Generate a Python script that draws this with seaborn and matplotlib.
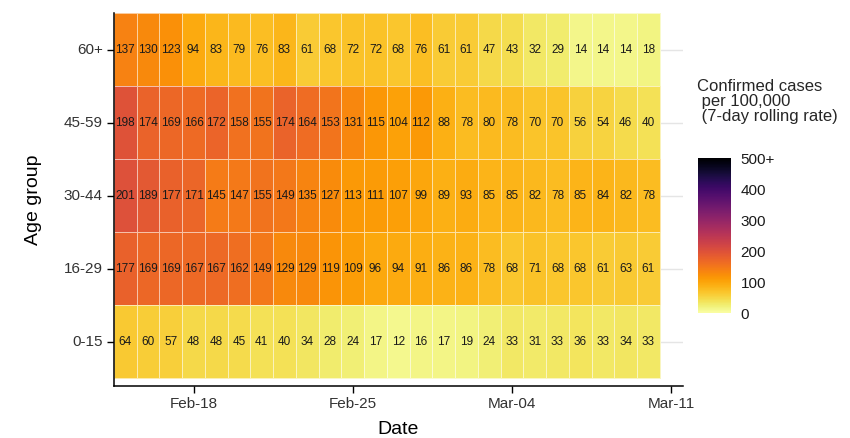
import pandas as pd
import seaborn as sns
import matplotlib.pyplot as plt

# 7-day rolling rate of confirmed cases per 100,000, by age group
age_groups = ["60+", "45-59", "30-44", "16-29", "0-15"]
start_date = "2021-02-15"
n_days = 24

rate_60plus = [137, 130, 123, 94, 83, 79, 76, 83, 61, 68, 72, 72,
               68, 76, 61, 61, 47, 43, 32, 29, 14, 14, 14, 18]
rate_45_59 = [198, 174, 169, 166, 172, 158, 155, 174, 164, 153, 131, 115,
              104, 112, 88, 78, 80, 78, 70, 70, 56, 54, 46, 40]
rate_30_44 = [201, 189, 177, 171, 145, 147, 155, 149, 135, 127, 113, 111,
              107, 99, 89, 93, 85, 85, 82, 78, 85, 84, 82, 78]
rate_16_29 = [177, 169, 169, 167, 167, 162, 149, 129, 129, 119, 109, 96,
              94, 91, 86, 86, 78, 68, 71, 68, 68, 61, 63, 61]
rate_0_15 = [64, 60, 57, 48, 48, 45, 41, 40, 34, 28, 24, 17,
             12, 16, 17, 19, 24, 33, 31, 33, 36, 33, 34, 33]

tick_dates = ["2021-02-18", "2021-02-25", "2021-03-04", "2021-03-11"]
cbar_ticks = [0, 100, 200, 300, 400, 500]
cbar_labels = ["0", "100", "200", "300", "400", "500+"]

dates = pd.date_range(start_date, periods=n_days, freq="D")
rates = pd.DataFrame([rate_60plus, rate_45_59, rate_30_44, rate_16_29, rate_0_15],
                     index=age_groups, columns=dates)

sns.set_theme(style="white")
plt.rcParams["font.family"] = ["Liberation Sans", "DejaVu Sans"]

fig = plt.figure(figsize=(8.5, 4.38), dpi=100)
ax = fig.add_axes([0.134, 0.118, 0.669, 0.852])
cax = fig.add_axes([0.821, 0.285, 0.039, 0.354])

sns.heatmap(rates, ax=ax, cbar_ax=cax, cmap="inferno_r", vmin=0, vmax=500,
            annot=True, fmt="d", annot_kws={"size": 8.5, "color": "#1a1a1a"},
            linewidths=0.6, linecolor=(1, 1, 1, 0.6))

# date axis that runs a bit past the last tile
tick_pos = [(pd.Timestamp(d) - dates[0]).days + 0.5 for d in tick_dates]
ax.set_xticks(tick_pos)
ax.set_xticklabels([pd.Timestamp(d).strftime("%b-%d") for d in tick_dates], rotation=0)
ax.set_xlim(0, n_days + 1)
ax.set_ylim(len(age_groups) + 0.11, 0)
ax.set_yticklabels(age_groups, rotation=0)

ax.grid(axis="y", color="#e5e5e5", linewidth=1)
ax.set_axisbelow(True)
for s in ["top", "right"]:
    ax.spines[s].set_visible(False)
for s in ["left", "bottom"]:
    ax.spines[s].set_visible(True)
    ax.spines[s].set_color("black")
    ax.spines[s].set_linewidth(1.1)
ax.tick_params(axis="both", which="major", length=5, width=1, color="black",
               labelcolor="#333333", labelsize=11, bottom=True, left=True, pad=3)

ax.set_xlabel("Date", fontsize=14, color="black", labelpad=7)
ax.set_ylabel("Age group", fontsize=14, color="black", labelpad=16)

cax.set_yticks(cbar_ticks)
cax.set_yticklabels(cbar_labels)
cax.tick_params(axis="y", direction="in", color="white", length=5, width=0.8,
                left=True, right=True, labelsize=11, labelcolor="#1a1a1a", pad=7)
for s in cax.spines.values():
    s.set_visible(False)

fig.text(0.82, 0.82, "Confirmed cases\n per 100,000\n (7-day rolling rate)",
         fontsize=12, va="top", ha="left", linespacing=1.0)

fig.savefig("out.png", dpi=100)
